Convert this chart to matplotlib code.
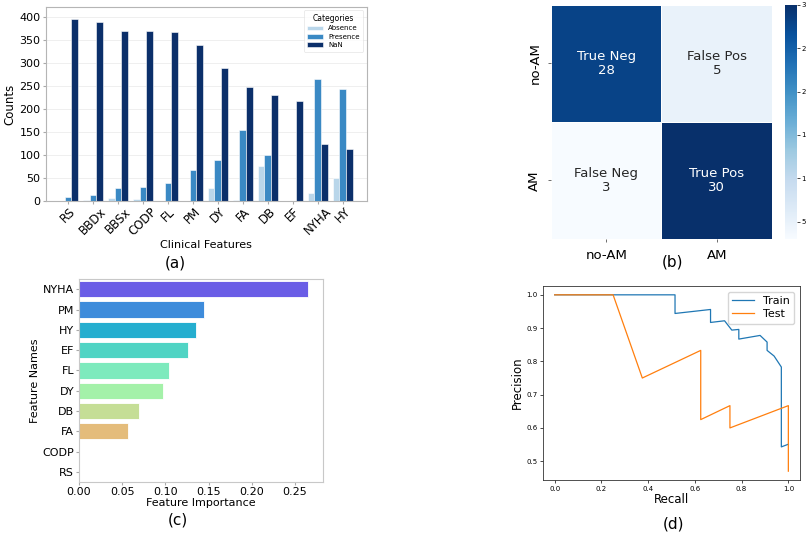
import numpy as np
from matplotlib import pyplot as plt

# (a) missing-value counts per clinical feature
features = ["RS", "BBDx", "BBSx", "CODP", "FL", "PM", "DY", "FA", "DB", "EF", "NYHA", "HY"]
absence = [0, 2, 6, 5, 0, 0, 29, 2, 75, 0, 17, 50]
presence = [8, 13, 28, 31, 38, 67, 88, 155, 99, 0, 264, 242]
nan_counts = [396, 389, 370, 368, 366, 338, 288, 247, 231, 218, 124, 113]
categories = ["Absence", "Presence", "NaN"]
cat_colors = ["#b9d6ea", "#3a89c4", "#0b2f6a"]

# (b) confusion matrix
cm_classes = ["no-AM", "AM"]
cm_values = [[28, 5], [3, 30]]
cm_names = [["True Neg", "False Pos"], ["False Neg", "True Pos"]]

# (c) feature importance
imp_names = ["NYHA", "PM", "HY", "EF", "FL", "DY", "DB", "FA", "CODP", "RS"]
imp_values = [0.265, 0.145, 0.135, 0.126, 0.104, 0.097, 0.070, 0.057, 0.0, 0.0]
imp_colors = ["#6a5de6", "#3e8cdb", "#25aecf", "#50d4c4", "#7deabd",
              "#a4f1a9", "#c5de96", "#e4bc7b", "#f29f6a", "#f07a5c"]

# (d) precision-recall curves
train_recall = [0.0, 0.515, 0.515, 0.667, 0.667, 0.727, 0.758, 0.788, 0.788,
                0.879, 0.909, 0.909, 0.939, 0.970, 0.970, 1.0]
train_precision = [1.0, 1.0, 0.944, 0.956, 0.917, 0.922, 0.894, 0.896, 0.867,
                   0.878, 0.858, 0.833, 0.816, 0.783, 0.543, 0.551]
test_recall = [0.0, 0.25, 0.375, 0.625, 0.625, 0.75, 0.75, 1.0, 1.0]
test_precision = [1.0, 1.0, 0.75, 0.833, 0.625, 0.667, 0.6, 0.667, 0.47]

plt.rcParams['font.family'] = 'DejaVu Sans'
fig = plt.figure(figsize=(8.06, 5.35), dpi=100)

# ---- (a) grouped bars
ax_a = fig.add_axes([0.057, 0.6243, 0.398, 0.3626])
x = np.arange(len(features))
w = 0.8 / 3
for i, (vals, name, col) in enumerate(zip([absence, presence, nan_counts], categories, cat_colors)):
	ax_a.bar(x + (i - 1) * w, vals, w, color=col, label=name, edgecolor='white', linewidth=0.4, zorder=2)
ax_a.set_xlim(-0.88, 11.96)
ax_a.set_ylim(0, 421)
ax_a.set_yticks(np.arange(0, 401, 50))
ax_a.set_xticks(x)
ax_a.set_xticklabels(features, rotation=45, fontsize=8.5)
ax_a.tick_params(axis='y', labelsize=8, length=2, color='#aaaaaa', pad=2)
ax_a.tick_params(axis='x', length=2, color='#aaaaaa', pad=1)
ax_a.grid(axis='y', color='#ececec', linewidth=0.6, zorder=0)
for s in ax_a.spines.values():
	s.set_color('#b5b5b5')
ax_a.set_ylabel("Counts", fontsize=8.5, labelpad=2)
ax_a.set_xlabel("Clinical Features", fontsize=8, labelpad=1)
leg = ax_a.legend(title="Categories", fontsize=5, title_fontsize=5.5, loc='upper right',
                  frameon=True, handlelength=2.2, borderpad=0.5, labelspacing=0.35)
leg.get_frame().set_edgecolor('#dddddd')
leg.get_frame().set_linewidth(0.5)

# ---- (b) confusion matrix heatmap
ax_b = fig.add_axes([0.6836, 0.5533, 0.2742, 0.4374])
cax = fig.add_axes([0.974, 0.5533, 0.0149, 0.4374])
cm = np.array(cm_values)
mesh = ax_b.pcolormesh(cm, cmap='Blues', vmin=cm.min(), vmax=cm.max(),
                       edgecolor='white', linewidth=0.4)
ax_b.set_xlim(0, 2)
ax_b.set_ylim(2, 0)
for r in range(2):
	for c in range(2):
		v = cm[r, c]
		norm_v = (v - cm.min()) / (cm.max() - cm.min())
		col = 'white' if norm_v > 0.5 else '#262626'
		ax_b.text(c + 0.5, r + 0.5, "%s\n%d" % (cm_names[r][c], v), ha='center', va='center',
		          fontsize=9.5, color=col, linespacing=1.05)
ax_b.set_xticks([0.5, 1.5])
ax_b.set_xticklabels(cm_classes, fontsize=9.5)
ax_b.set_yticks([0.5, 1.5])
ax_b.set_yticklabels(cm_classes, fontsize=9.5, rotation=90, va='center')
ax_b.tick_params(length=2, width=0.6, color='#555555', pad=5)
for s in ax_b.spines.values():
	s.set_visible(False)
cb = fig.colorbar(mesh, cax=cax, ticks=[5, 10, 15, 20, 25, 30])
cb.outline.set_visible(False)
cb.ax.tick_params(labelsize=5, length=2, width=0.5, pad=1)

# ---- (c) horizontal importance bars
ax_c = fig.add_axes([0.098, 0.099, 0.3027, 0.3794])
yy = np.arange(len(imp_names))
ax_c.barh(yy, imp_values, height=0.8, color=imp_colors, edgecolor='white', linewidth=0.6)
ax_c.set_ylim(len(imp_names) - 0.5, -0.5)
ax_c.set_xlim(0, 0.2824)
ax_c.set_yticks(yy)
ax_c.set_yticklabels(imp_names, fontsize=8)
ax_c.set_xticks([0.0, 0.05, 0.10, 0.15, 0.20, 0.25])
ax_c.set_xticklabels(["0.00", "0.05", "0.10", "0.15", "0.20", "0.25"], fontsize=8)
ax_c.tick_params(length=2, color='#aaaaaa', pad=1.5)
for s in ax_c.spines.values():
	s.set_color('#c8c8c8')
ax_c.set_xlabel("Feature Importance", fontsize=8, labelpad=1)
ax_c.set_ylabel("Feature Names", fontsize=8, labelpad=2)

# ---- (d) precision-recall
ax_d = fig.add_axes([0.6737, 0.1028, 0.3189, 0.3626])
ax_d.plot(train_recall, train_precision, color='#1f77b4', linewidth=0.9, label='Train')
ax_d.plot(test_recall, test_precision, color='#ff7f0e', linewidth=0.9, label='Test')
ax_d.set_xticks([0.0, 0.2, 0.4, 0.6, 0.8, 1.0])
ax_d.set_yticks([0.5, 0.6, 0.7, 0.8, 0.9, 1.0])
ax_d.tick_params(labelsize=5, length=2, width=0.5, pad=2)
for s in ax_d.spines.values():
	s.set_linewidth(0.6)
	s.set_color('#333333')
ax_d.set_xlabel("Recall", fontsize=8.5, labelpad=1)
ax_d.set_ylabel("Precision", fontsize=8.5, labelpad=2)
ax_d.legend(fontsize=8, loc='upper right', handlelength=2.0, borderpad=0.4, labelspacing=0.3)

# panel captions
fig.text(0.217, 0.508, "(a)", ha='center', va='center', fontsize=11)
fig.text(0.834, 0.510, "(b)", ha='center', va='center', fontsize=11)
fig.text(0.221, 0.028, "(c)", ha='center', va='center', fontsize=11)
fig.text(0.835, 0.020, "(d)", ha='center', va='center', fontsize=11)

fig.savefig("out.png", dpi=100, facecolor='white')
